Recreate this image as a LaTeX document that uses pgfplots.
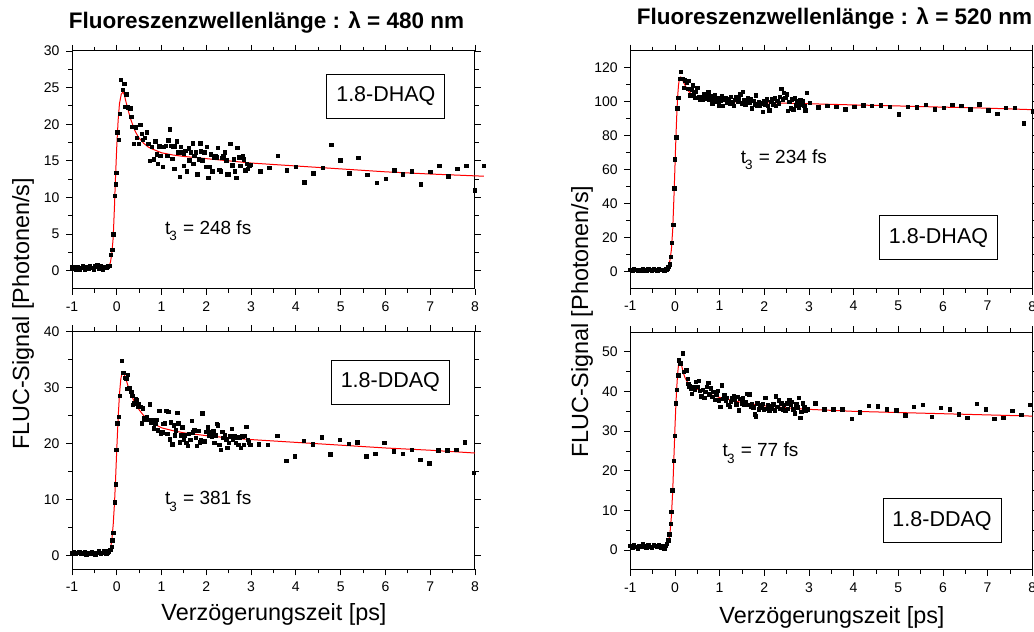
\documentclass[border=0pt]{standalone}
\usepackage{fontspec}
\setmainfont{Liberation Sans}
\usepackage{pgfplots}
\pgfplotsset{compat=1.18}
\newcommand{\tlab}[1]{\fontsize{19}{22}\selectfont t\kern-1pt\raisebox{-6.5pt}{\fontsize{13.5}{15}\selectfont 3}\kern1pt{} = #1 fs}
\tikzset{box/.style={draw=black, line width=0.9pt, minimum width=118pt, minimum height=44pt, inner sep=0pt, font=\fontsize{21.5}{24}\selectfont, fill=white}}
\begin{document}
\begin{tikzpicture}[x=1pt,y=1pt]
\path[use as bounding box] (0pt,0pt) rectangle (1034pt,632pt);
\pgfplotsset{
  panel/.style={
    scale only axis, width=403pt, height=238pt, anchor=south west, clip=false,
    xmin=-1, xmax=8, xtick={-1,0,...,8}, xticklabels={-1,0,1,2,3,4,5,6,7,8},
    minor x tick num=1, minor y tick num=1,
    tick align=outside, major tick length=6pt, minor tick length=4pt,
    axis line style={line width=1pt},
    every tick/.append style={black, line width=0.9pt},
    tick label style={font=\fontsize{14}{16}\selectfont},
    xticklabel style={yshift=-3pt},
    yticklabel style={xshift=-3pt},
    /pgf/number format/assume math mode=true,
  },
  pts/.style={only marks, mark=square*, mark size=1.7pt, black},
  fit/.style={red, line width=1pt, no marks},
}
% ---------------- top left ----------------
\begin{axis}[panel, at={(72pt,343pt)}, ymin=-2.5, ymax=30, ytick={0,5,...,30}]
\addplot[pts] coordinates {
(-1,0.5)(-0.96,0.3)(-0.92,0.2)(-0.88,0.5)(-0.84,0.2)(-0.8,0.4)(-0.76,0.6)(-0.72,0.1)(-0.68,0.5)(-0.64,0.3)(-0.6,0.7)(-0.56,0.4)(-0.52,0.2)(-0.48,0.6)(-0.44,0.8)(-0.4,0.3)(-0.36,0.6)(-0.32,0.2)(-0.28,0.5)(-0.24,0.4)(-0.2,0.6)(-0.17,0.7)
(-0.13,2.2)(-0.10,2.9)(-0.08,5.0)(-0.05,10.2)(-0.03,11.8)(-0.01,13.4)(0.01,18.9)(0.04,17.9)(0.065,21.4)(0.09,26.1)(0.13,24.7)(0.17,25.5)(0.21,24.1)(0.19,22.4)(0.24,22.3)(0.30,22.2)(0.32,21.0)(0.34,19.7)(0.38,17.3)(0.42,19.6)(0.45,18.2)(0.49,17.3)(0.52,19.9)(0.55,18.7)(0.58,17.9)(0.63,18.2)(0.67,18.9)(0.70,17.3)(0.73,15.0)(0.78,16.9)(0.82,15.2)(0.86,17.7)(0.89,15.9)(0.92,14.6)(0.95,17.0)(0.97,15.7)(1.02,14.2)(1.05,16.9)(1.09,17.1)(1.13,15.7)(1.15,17.8)(1.18,19.3)(1.21,17.1)(1.24,15.3)(1.26,17.0)(1.28,13.9)(1.30,17.0)(1.34,17.7)(1.36,16.2)(1.40,12.8)(1.43,16.9)(1.46,16.2)(1.49,16.0)(1.50,14.3)(1.53,16.4)(1.56,13.6)(1.60,16.7)(1.62,15.1)(1.65,16.2)(1.69,17.4)(1.71,14.6)(1.73,15.7)(1.76,16.2)(1.80,13.2)(1.83,15.2)(1.86,17.4)(1.88,16.3)(1.91,15.1)(1.95,16.2)(1.98,14.2)(2.01,16.9)(2.04,12.7)(2.07,14.2)(2.10,15.9)(2.13,13.6)(2.17,15.4)(2.20,15.7)(2.23,15.5)(2.26,16.8)(2.29,13.8)(2.32,13.6)(2.35,15.4)(2.38,15.7)(2.41,16.2)(2.44,15.1)(2.46,13.2)(2.50,13.2)(2.53,17.3)(2.56,14.5)(2.58,14.4)(2.61,15.2)(2.64,13.6)(2.67,12.7)(2.69,16.8)(2.73,15.5)(2.76,14.3)(2.79,15.4)(2.81,15.7)(2.84,15.2)(2.87,13.7)(2.90,14.6)(2.93,13.9)(2.96,14.3)(2.99,14.5)
(3.20,13.6)(3.40,14.1)(3.60,15.7)(3.80,13.7)(4.00,14.2)(4.19,12.1)(4.39,13.3)(4.60,14.1)(4.79,17.2)(4.99,15.1)(5.19,13.3)(5.39,15.4)(5.59,13.1)(5.80,12.0)(6.00,12.6)(6.20,13.7)(6.39,13.2)(6.59,13.6)(6.79,11.8)(7.00,13.5)(7.20,14.3)(7.40,12.9)(7.60,13.9)(7.80,14.3)(7.99,11.0)(8.20,14.3)
};
\addplot[fit] coordinates {
(-1,0.4)(-0.2,0.4)(-0.17,0.6)(-0.14,1.2)(-0.11,2.4)(-0.08,4.5)(-0.05,9)(-0.03,12.5)(0,17)(0.03,20.5)(0.06,22.8)(0.1,24.1)(0.14,24.4)(0.17,24.0)(0.20,23.2)(0.25,22.0)(0.30,20.9)(0.35,20.0)(0.40,19.2)(0.45,18.6)(0.5,18.1)(0.6,17.4)(0.7,16.9)(0.8,16.6)(1.0,16.1)(1.25,15.8)(1.5,15.6)(2.0,15.3)(2.5,15.0)(3.0,14.7)(4,14.3)(5,13.9)(6,13.5)(7,13.2)(8.2,12.9)
};
\node[box] at (axis cs:6.01,23.8) {1.8-DHAQ};
\node[anchor=base west] at (axis cs:1.0,4.96) {\tlab{248}};
\end{axis}
% ---------------- bottom left ----------------
\begin{axis}[panel, at={(72pt,62.5pt)}, ymin=-2.5, ymax=40, ytick={0,10,...,40}]
\addplot[pts] coordinates {
(-1,0.4)(-0.96,0.6)(-0.92,0.3)(-0.88,0.5)(-0.84,0.7)(-0.8,0.3)(-0.76,0.4)(-0.72,0.6)(-0.68,0.2)(-0.64,0.5)(-0.6,0.3)(-0.56,0.6)(-0.52,0.4)(-0.48,0.2)(-0.44,0.5)(-0.4,0.8)(-0.36,0.3)(-0.32,0.5)(-0.28,0.9)(-0.24,0.4)(-0.2,0.6)(-0.18,0.8)
(-0.15,1.0)(-0.12,1.6)(-0.10,2.7)(-0.08,4.1)(-0.05,9.5)(-0.03,12.7)(-0.01,18.9)(0.01,23.6)(0.04,24.8)(0.07,28.5)(0.11,34.8)(0.14,32.6)(0.18,31.8)(0.21,31.6)(0.25,32.3)(0.23,29.8)(0.28,29.9)(0.32,29.3)(0.34,28.5)(0.36,26.9)(0.39,27.2)(0.42,27.9)(0.45,27.7)(0.47,26.6)(0.49,27.0)(0.53,26.6)(0.55,23.6)(0.58,26.3)(0.61,24.5)(0.64,24.3)(0.67,24.7)(0.70,24.2)(0.74,27.0)(0.77,23.8)(0.80,24.2)(0.83,22.7)(0.86,23.5)(0.89,24.3)(0.92,22.4)(0.95,25.9)(0.98,21.7)(1.01,22.0)(1.04,23.5)(1.07,23.6)(1.10,25.9)(1.13,21.7)(1.15,25.7)(1.18,20.8)(1.21,23.8)(1.24,19.9)(1.27,23.3)(1.30,21.5)(1.32,22.4)(1.35,25.5)(1.37,23.6)(1.40,20.2)(1.43,21.5)(1.46,22.9)(1.49,20.7)(1.52,21.5)(1.55,20.1)(1.58,19.6)(1.61,21.7)(1.64,20.7)(1.67,24.1)(1.70,22.0)(1.73,22.4)(1.76,21.0)(1.79,19.6)(1.82,22.3)(1.85,20.2)(1.88,20.7)(1.91,25.4)(1.94,20.4)(1.97,20.4)(2.00,22.1)(2.03,22.9)(2.06,21.5)(2.09,22.0)(2.12,21.3)(2.15,22.3)(2.18,20.1)(2.20,21.5)(2.23,23.5)(2.26,23.3)(2.29,19.8)(2.32,18.9)(2.35,22.1)(2.38,21.0)(2.41,21.5)(2.44,20.8)(2.47,19.2)(2.50,20.1)(2.53,21.3)(2.56,22.6)(2.59,20.7)(2.62,21.4)(2.65,20.1)(2.68,21.1)(2.71,19.8)(2.74,21.1)(2.77,19.2)(2.80,21.3)(2.83,19.8)(2.86,21.4)(2.89,23.0)(2.92,20.7)(2.95,20.2)(2.98,19.8)
(3.17,19.9)(3.37,19.8)(3.58,21.4)(3.78,16.9)(3.98,17.7)(4.17,20.5)(4.37,19.9)(4.57,21.1)(4.77,18.1)(4.98,20.7)(5.18,20.0)(5.37,20.2)(5.57,17.7)(5.77,18.2)(5.97,20.1)(6.18,18.6)(6.38,18.2)(6.58,18.9)(6.78,17.1)(6.98,16.5)(7.18,18.8)(7.38,18.8)(7.58,18.9)(7.77,20.2)(7.97,14.8)
};
\addplot[fit] coordinates {
(-1,0.4)(-0.2,0.4)(-0.17,0.6)(-0.14,1.3)(-0.11,2.8)(-0.08,5.5)(-0.05,9.5)(-0.03,13)(0,19)(0.03,24.5)(0.06,28.8)(0.09,31.5)(0.12,32.7)(0.15,32.7)(0.2,31.6)(0.25,30.3)(0.3,29.2)(0.35,28.2)(0.4,27.4)(0.5,26.0)(0.6,25.0)(0.7,24.2)(0.8,23.6)(1.0,22.8)(1.25,22.3)(1.5,21.9)(2.0,21.4)(2.5,21.0)(3.0,20.7)(4,20.2)(5,19.7)(6,19.2)(7,18.8)(8,18.3)
};
\node[box] at (axis cs:6.11,30.96) {1.8-DDAQ};
\node[anchor=base west] at (axis cs:1.0,9.05) {\tlab{381}};
\end{axis}
% ---------------- top right ----------------
\begin{axis}[panel, at={(630.3pt,343.3pt)}, width=402pt, ymin=-10, ymax=130, ytick={0,20,...,120}]
\addplot[pts] coordinates {
(-1,1.2)(-0.96,0.8)(-0.92,1.5)(-0.88,1.0)(-0.84,0.6)(-0.8,1.3)(-0.76,0.9)(-0.72,1.6)(-0.68,1.1)(-0.64,0.7)(-0.6,1.4)(-0.56,1.0)(-0.52,0.8)(-0.48,1.5)(-0.44,1.2)(-0.4,0.9)(-0.36,1.6)(-0.32,1.1)(-0.28,1.3)(-0.24,0.8)(-0.2,1.5)(-0.17,1.9)
(-0.15,2.9)(-0.12,4.5)(-0.10,8.8)(-0.07,17.1)(-0.04,27.5)(-0.02,49.0)(0.0,66.1)(0.03,79.0)(0.05,96.1)(0.07,102.4)(0.10,113.7)(0.13,117.6)(0.16,113.7)(0.20,108.4)(0.22,112.7)(0.26,111.2)(0.29,107.8)(0.31,112.2)(0.34,103.9)(0.37,107.3)(0.40,109.8)(0.42,104.5)(0.45,102.4)(0.47,105.9)(0.50,108.4)(0.53,102.9)(0.56,101.4)(0.59,102.9)(0.62,101.0)(0.65,104.3)(0.68,102.0)(0.71,103.9)(0.74,105.9)(0.77,101.0)(0.80,103.3)(0.83,99.0)(0.86,101.8)(0.89,103.9)(0.92,100.0)(0.95,102.5)(0.98,98.0)(1.01,100.6)(1.04,103.3)(1.07,97.5)(1.10,101.0)(1.13,102.5)(1.16,99.4)(1.19,101.4)(1.22,99.0)(1.25,102.9)(1.28,100.0)(1.31,97.5)(1.34,101.0)(1.37,102.9)(1.40,100.0)(1.43,101.8)(1.46,104.5)(1.49,99.0)(1.51,105.9)(1.54,101.0)(1.57,98.6)(1.60,100.0)(1.63,102.0)(1.66,99.4)(1.69,101.4)(1.72,96.1)(1.75,100.6)(1.78,98.6)(1.81,103.9)(1.84,98.0)(1.87,100.0)(1.90,97.5)(1.93,99.0)(1.96,94.1)(1.99,100.6)(2.02,98.6)(2.05,101.4)(2.08,97.5)(2.11,95.1)(2.14,100.0)(2.17,101.4)(2.20,98.6)(2.23,102.0)(2.26,97.5)(2.29,100.6)(2.32,99.0)(2.35,102.9)(2.38,107.8)(2.41,101.4)(2.44,105.3)(2.47,102.5)(2.50,104.5)(2.53,94.7)(2.56,100.0)(2.59,96.1)(2.62,101.4)(2.65,95.5)(2.68,102.0)(2.71,98.0)(2.74,100.6)(2.77,96.7)(2.80,101.0)(2.83,98.6)(2.86,100.4)(2.89,97.5)(2.92,95.1)(2.95,105.3)(3.01,99.4)
(3.21,96.7)(3.41,97.8)(3.61,97.1)(3.81,95.5)(4.01,96.9)(4.21,98.0)(4.41,97.6)(4.61,98.0)(4.81,97.1)(5.01,92.7)(5.21,97.1)(5.41,96.7)(5.61,98.4)(5.81,95.5)(6.01,96.3)(6.21,98.4)(6.41,97.8)(6.61,95.5)(6.81,98.6)(7.01,95.1)(7.21,93.1)(7.41,96.5)(7.61,96.5)(7.81,87.3)(8.01,94.5)
};
\addplot[fit] coordinates {
(-1,1.0)(-0.2,1.2)(-0.17,1.8)(-0.14,3.3)(-0.11,7)(-0.08,13)(-0.05,25)(-0.02,46)(0,62)(0.02,78)(0.04,92)(0.06,103)(0.08,110)(0.10,113.5)(0.12,114.5)(0.14,114.3)(0.17,112.8)(0.2,111)(0.25,108.5)(0.3,106.3)(0.4,103.6)(0.5,102.2)(0.6,101.4)(0.8,100.6)(1.0,100.2)(1.5,99.8)(2,99.4)(3,98.8)(4,98.1)(5,97.5)(6,96.8)(7,96.2)(8,95.3)(8.1,95.2)
};
\node[box] at (axis cs:5.90,20.1) {1.8-DHAQ};
\node[anchor=base west] at (axis cs:1.395,63.8) {\tlab{234}};
\end{axis}
% ---------------- bottom right ----------------
\begin{axis}[panel, at={(630.3pt,62pt)}, width=402pt, ymin=-5, ymax=55, ytick={0,10,...,50}]
\addplot[pts] coordinates {
(-1,1.2)(-0.96,0.7)(-0.92,1.4)(-0.88,0.9)(-0.84,0.5)(-0.8,1.1)(-0.76,0.8)(-0.72,1.5)(-0.68,1.0)(-0.64,0.6)(-0.6,1.3)(-0.56,0.9)(-0.52,0.7)(-0.48,1.4)(-0.44,1.1)(-0.4,0.8)(-0.36,1.3)(-0.32,0.6)(-0.28,1.0)(-0.24,0.5)(-0.22,1.2)
(-0.19,1.7)(-0.15,2.5)(-0.13,4.0)(-0.10,6.6)(-0.08,9.7)(-0.06,15.1)(-0.03,22.5)(-0.01,28.8)(0.01,37.1)(0.04,40.5)(0.07,44.1)(0.09,47.9)(0.12,47.1)(0.17,49.7)(0.20,45.0)(0.25,45.4)(0.28,43.3)(0.30,42.0)(0.32,41.3)(0.35,40.8)(0.38,39.5)(0.41,41.2)(0.44,40.5)(0.47,42.4)(0.50,41.2)(0.53,42.7)(0.56,40.2)(0.59,38.8)(0.62,40.5)(0.65,38.5)(0.68,39.9)(0.71,41.2)(0.74,42.2)(0.77,39.3)(0.80,40.8)(0.83,38.7)(0.86,39.9)(0.89,38.0)(0.92,39.3)(0.95,40.2)(0.98,37.8)(1.01,36.1)(1.04,41.6)(1.07,38.2)(1.10,39.1)(1.13,37.8)(1.16,38.5)(1.19,36.6)(1.22,36.1)(1.25,37.4)(1.28,38.5)(1.31,38.8)(1.34,38.0)(1.37,36.8)(1.40,38.7)(1.43,35.3)(1.46,38.2)(1.49,37.1)(1.51,38.5)(1.54,36.6)(1.57,37.4)(1.60,39.5)(1.63,36.6)(1.66,39.3)(1.69,36.1)(1.72,37.0)(1.75,36.0)(1.78,34.3)(1.81,33.8)(1.84,37.1)(1.87,35.5)(1.90,36.6)(1.93,36.0)(1.96,37.0)(1.99,35.5)(2.02,38.5)(2.05,35.7)(2.08,36.6)(2.11,35.3)(2.14,36.3)(2.17,35.7)(2.20,36.8)(2.23,35.3)(2.26,38.8)(2.29,36.1)(2.32,37.8)(2.35,35.7)(2.38,37.1)(2.41,35.5)(2.44,36.6)(2.47,35.3)(2.50,37.1)(2.53,35.7)(2.56,37.8)(2.59,36.6)(2.62,37.4)(2.65,35.5)(2.68,34.5)(2.71,36.8)(2.74,36.0)(2.77,38.5)(2.80,33.4)(2.83,34.9)(2.86,37.1)(2.89,36.0)(2.92,35.3)(2.96,35.5)
(3.14,37.1)(3.34,35.5)(3.54,35.5)(3.74,35.5)(3.95,33.1)(4.14,34.8)(4.34,36.4)(4.54,36.3)(4.74,35.5)(4.95,35.3)(5.15,34.0)(5.35,36.1)(5.54,36.7)(5.75,33.6)(5.95,35.9)(6.15,35.5)(6.35,34.3)(6.54,33.4)(6.75,37.0)(6.95,35.5)(7.15,33.2)(7.35,33.4)(7.55,35.1)(7.75,34.1)(7.95,36.6)
};
\addplot[fit] coordinates {
(-1,1.0)(-0.2,1.1)(-0.17,1.5)(-0.14,2.4)(-0.11,4.5)(-0.08,8.5)(-0.05,15)(-0.02,24.5)(0,31)(0.02,36.5)(0.04,41)(0.06,44.5)(0.08,46.8)(0.10,47.7)(0.12,47.6)(0.15,46.5)(0.18,45.0)(0.22,43.6)(0.26,42.7)(0.3,42.1)(0.4,41.2)(0.5,40.6)(0.6,40.1)(0.8,39.2)(1.0,38.5)(1.5,37.2)(2.0,36.4)(2.5,35.9)(3.0,35.5)(4,35.0)(5,34.7)(6,34.4)(7,34.1)(8,33.8)
};
\node[box] at (axis cs:5.98,7.43) {1.8-DDAQ};
\node[anchor=base west] at (axis cs:0.99,23.5) {\tlab{77}};
\end{axis}
% ---------------- titles and labels ----------------
\node[anchor=base, font=\bfseries\fontsize{22.5}{26}\selectfont] at (266.5pt,603pt) {Fluoreszenzwellenlänge : λ = 480 nm};
\node[anchor=base west, font=\bfseries\fontsize{22.5}{26}\selectfont] at (633.3pt,607.5pt) {Fluoreszenzwellenlänge : λ = 520 nm};
\node[anchor=base, rotate=90, font=\fontsize{23.4}{27}\selectfont] at (29pt,318pt) {FLUC-Signal [Photonen/s]};
\node[anchor=base, rotate=90, font=\fontsize{23.4}{27}\selectfont] at (588pt,310.5pt) {FLUC-Signal [Photonen/s]};
\node[anchor=base, font=\fontsize{23.4}{27}\selectfont] at (274pt,11pt) {Verzögerungszeit [ps]};
\node[anchor=base, font=\fontsize{23.4}{27}\selectfont] at (832pt,8pt) {Verzögerungszeit [ps]};
\end{tikzpicture}
\end{document}
